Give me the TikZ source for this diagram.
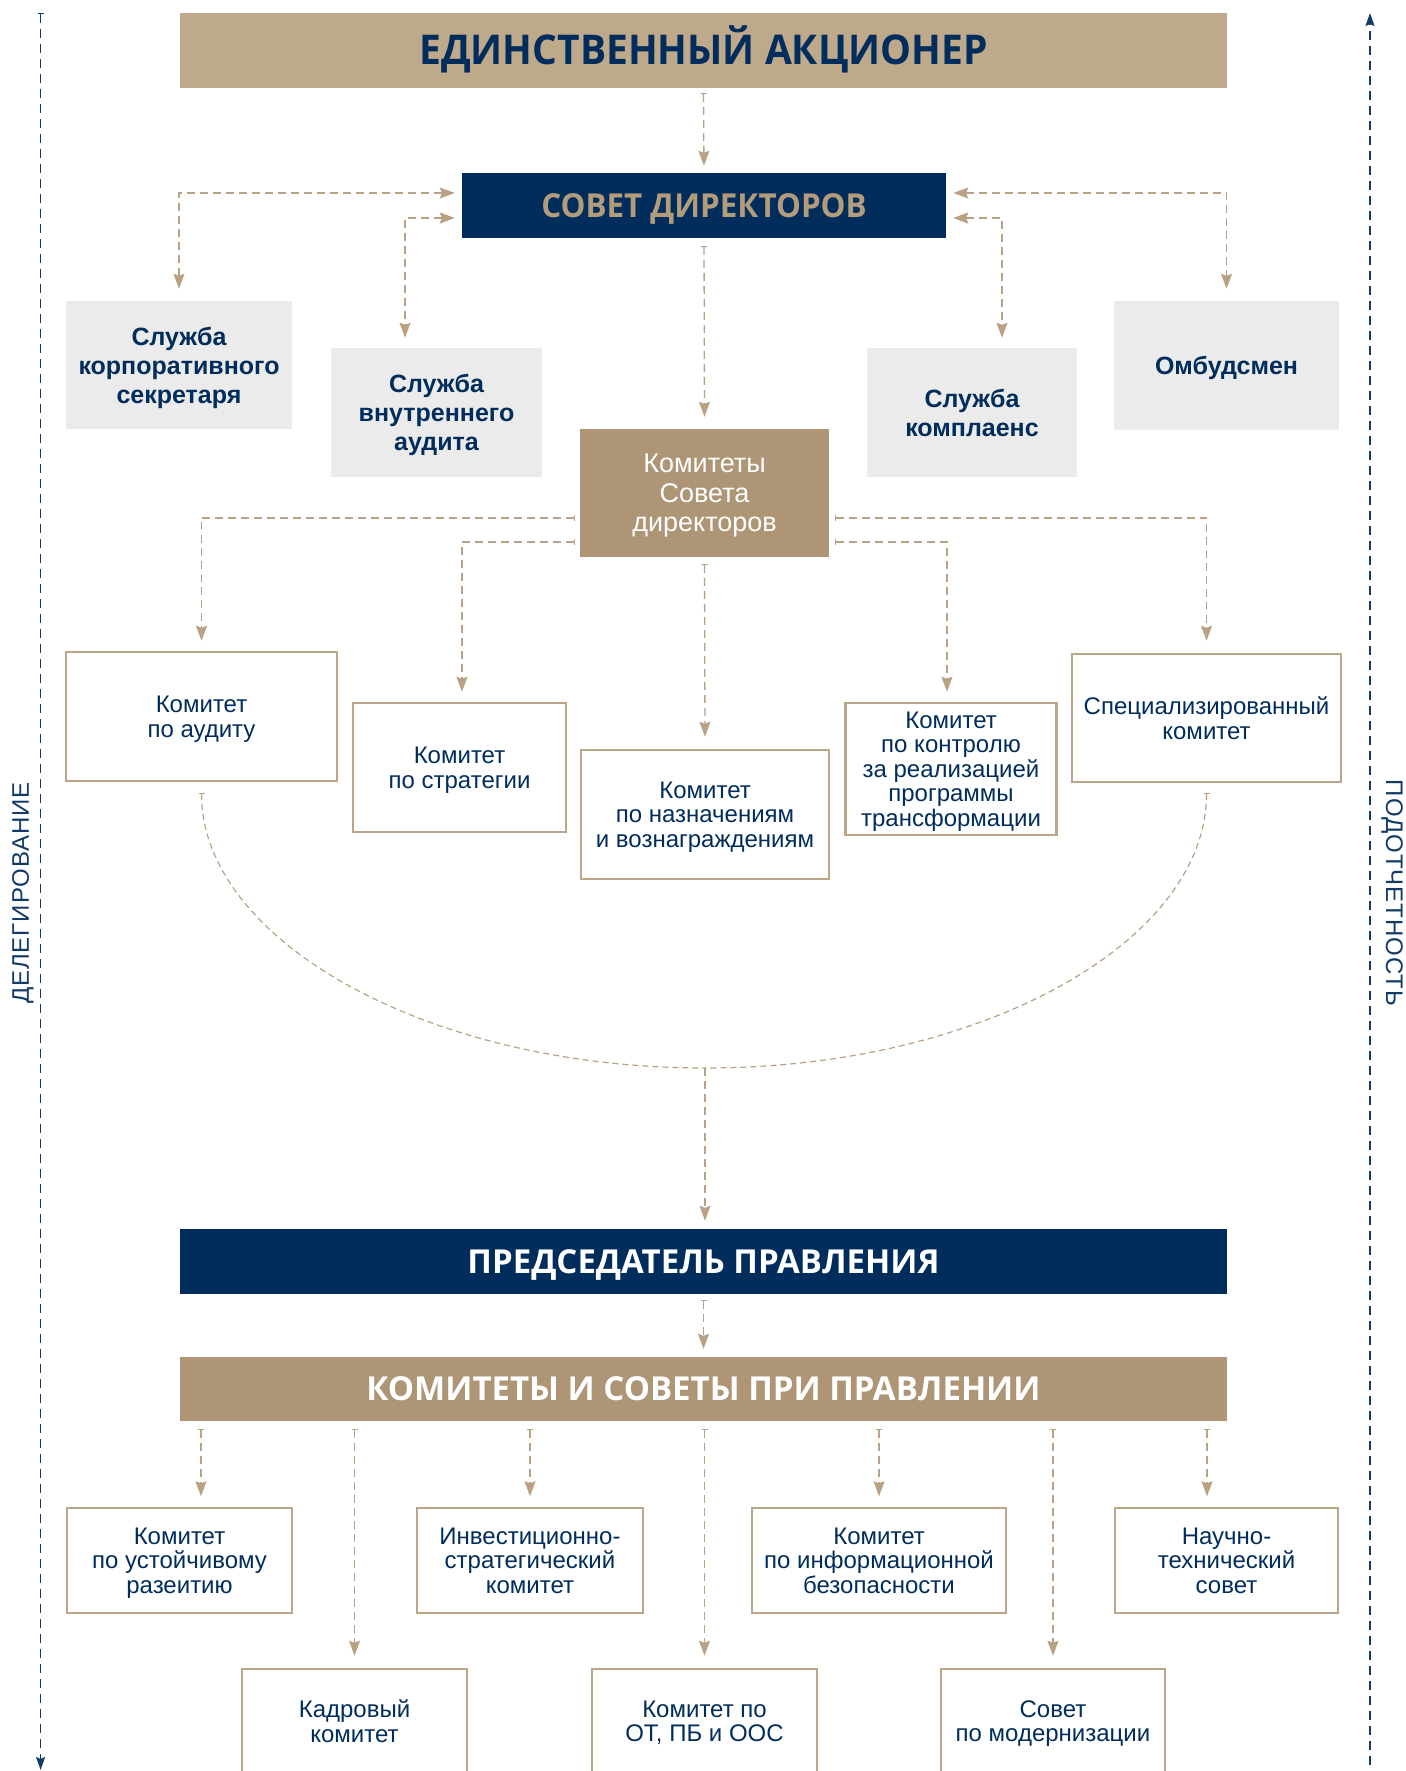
\documentclass[tikz,border=0pt]{standalone}
\usepackage{fontspec}
\setmainfont{Liberation Sans}
\newfontfamily\hfont{Open Sans}
\newfontfamily\hfontn{Open Sans}[FakeStretch=0.95]
\usetikzlibrary{arrows.meta,calc}
\definecolor{navy}{HTML}{002D5C}
\definecolor{tanlt}{HTML}{BFA98B}
\definecolor{tandk}{HTML}{AD9575}
\definecolor{grayb}{HTML}{EBEBEB}
\definecolor{lncol}{HTML}{B9A283}
\definecolor{bord}{HTML}{BBA687}
\definecolor{sdtext}{HTML}{B39C7C}
\definecolor{sidecol}{HTML}{123A66}
\tikzset{
  box/.style={rectangle, inner sep=0pt, align=center},
  hdr/.style={box, text height=29pt, text depth=0pt, font=\hfontn\bfseries\fontsize{41}{46}\selectfont},
  hdrs/.style={box, text height=23.5pt, text depth=0pt, font=\hfontn\bfseries\fontsize{33}{38}\selectfont},
  hdrm/.style={box, text height=23.5pt, text depth=0pt, font=\hfont\bfseries\fontsize{33}{36}\selectfont},
  gbox/.style={box, fill=grayb, text=navy, text depth=-3pt, font=\bfseries\fontsize{25}{29}\selectfont},
  obox/.style={box, draw=bord, line width=2.5pt, fill=white, text=navy, text depth=-3pt, font=\fontsize{24}{24.5}\selectfont},
  conn/.style={draw=lncol, line width=1.3pt, dash pattern=on 8pt off 5pt, {Bar[width=6pt,line width=1pt]}-{Stealth[length=15pt,width=11pt,inset=2pt]}},
  conntwo/.style={draw=lncol, line width=1.3pt, dash pattern=on 8pt off 5pt, {Stealth[length=15pt,width=11pt,inset=2pt]}-{Stealth[length=15pt,width=11pt,inset=2pt]}},
  connplain/.style={draw=lncol, line width=1.3pt, dash pattern=on 8pt off 5pt, -{Stealth[length=15pt,width=11pt,inset=2pt]}},
  curv/.style={draw=lncol, line width=1.2pt, dash pattern=on 6pt off 4pt, {Bar[width=6pt,line width=1pt]}-},
  side/.style={draw=sidecol, line width=1.4pt, dash pattern=on 9pt off 6pt},
  sidelab/.style={text=sidecol, inner sep=0pt, font=\fontsize{24}{26}\selectfont\addfontfeature{LetterSpace=4}}
}
\begin{document}
\begin{tikzpicture}[x=1pt,y=-1pt]
\useasboundingbox (0,0) rectangle (1405,1771);
\clip (0,0) rectangle (1405,1771);

% headers
\node[hdr, fill=tanlt, text=navy, minimum width=1047pt, minimum height=75pt] (sha) at (703.5,50.5) {ЕДИНСТВЕННЫЙ АКЦИОНЕР};
\node[hdrs, fill=navy, text=sdtext, minimum width=484pt, minimum height=65pt] (sd) at (704,205.5) {СОВЕТ ДИРЕКТОРОВ};

% grey boxes
\node[gbox, minimum width=226pt, minimum height=128pt] (skr) at (179,365) {Служба\\корпоративного\\секретаря};
\node[gbox, minimum width=211pt, minimum height=129pt] (sva) at (436.5,412.5) {Служба\\внутреннего\\аудита};
\node[gbox, minimum width=210pt, minimum height=129pt] (skom) at (972,412.5) {Служба\\комплаенс};
\node[gbox, minimum width=225pt, minimum height=129pt] (omb) at (1226.5,365.5) {Омбудсмен};

% committees of the board
\node[box, fill=tandk, text=white, text depth=-3pt, font=\fontsize{27}{29.5}\selectfont, minimum width=249pt, minimum height=128pt] (ksd) at (704.5,493) {Комитеты\\Совета\\директоров};

\node[obox, minimum width=271pt, minimum height=129pt] (kaud) at (201.5,716.5) {Комитет\\по аудиту};
\node[obox, minimum width=213pt, minimum height=129pt] (kstr) at (459.5,767.5) {Комитет\\по стратегии};
\node[obox, minimum width=248pt, minimum height=129pt] (knaz) at (705,814.5) {Комитет\\по назначениям\\и вознаграждениям};
\node[obox, minimum width=211pt, minimum height=132pt] (kktr) at (951,769) {Комитет\\по контролю\\за реализацией\\программы\\трансформации};
\node[obox, minimum width=269pt, minimum height=128pt] (kspec) at (1206.5,718) {Специализированный\\комитет};

% management
\node[hdrm, fill=navy, text=white, minimum width=1047pt, minimum height=65pt] (pred) at (703.5,1261.5) {ПРЕДСЕДАТЕЛЬ ПРАВЛЕНИЯ};
\node[hdrm, fill=tandk, text=white, minimum width=1047pt, minimum height=64pt] (ksp) at (703.5,1389) {КОМИТЕТЫ И СОВЕТЫ ПРИ ПРАВЛЕНИИ};

\node[obox, minimum width=225pt, minimum height=105pt] (kur) at (179.5,1560.5) {Комитет\\по устойчивому\\разеитию};
\node[obox, minimum width=226pt, minimum height=105pt] (inv) at (530,1560.5) {Инвестиционно-\\стратегический\\комитет};
\node[obox, minimum width=254pt, minimum height=105pt] (kib) at (879,1560.5) {Комитет\\по информационной\\безопасности};
\node[obox, minimum width=223pt, minimum height=105pt] (nts) at (1226.5,1560.5) {Научно-\\технический\\совет};

\node[obox, minimum width=225pt, minimum height=104pt] (kadr) at (354.5,1721) {Кадровый\\комитет};
\node[obox, minimum width=225pt, minimum height=104pt] (otpb) at (704.5,1721) {Комитет по\\ОТ, ПБ и ООС};
\node[obox, minimum width=224pt, minimum height=104pt] (smod) at (1053,1721) {Совет\\по модернизации};

% connectors: top part
\draw[conn, shorten <=5pt, shorten >=7pt] (sha.south) -- (sd.north);
\draw[conntwo, shorten <=7pt, shorten >=12pt] ([yshift=12.5pt]sd.west) -| (skr.north);
\draw[conntwo, shorten <=7pt, shorten >=10pt] ([yshift=-12.5pt]sd.west) -| ([xshift=-31.5pt]sva.north);
\draw[conntwo, shorten <=7pt, shorten >=12pt] ([yshift=12.5pt]sd.east) -| (omb.north);
\draw[conntwo, shorten <=7pt, shorten >=10pt] ([yshift=-12.5pt]sd.east) -| ([xshift=30pt]skom.north);
\draw[conn, shorten <=8pt, shorten >=12pt] (sd.south) -- (ksd.north);

% committees of the board
\draw[conn, shorten <=5pt, shorten >=10pt] ([yshift=-25pt]ksd.west) -| (kaud.north);
\draw[conn, shorten <=5pt, shorten >=10pt] ([yshift=-49pt]ksd.west) -| ([xshift=2.5pt]kstr.north);
\draw[conn, shorten <=7pt, shorten >=12pt] (ksd.south) -- (knaz.north);
\draw[conn, shorten <=6pt, shorten >=10pt] ([yshift=-49pt]ksd.east) -| ([xshift=-4pt]kktr.north);
\draw[conn, shorten <=6pt, shorten >=12pt] ([yshift=-25pt]ksd.east) -| (kspec.north);

% curve
\coordinate (cb) at (705,1068);
\draw[curv, shorten <=11pt] (kaud.south) .. controls +(0,158) and +(-278,0) .. (cb);
\draw[curv, shorten <=10pt] (kspec.south) .. controls +(0,158) and +(278,0) .. (cb);
\draw[connplain, shorten >=8pt] (cb) -- (cb |- pred.north);

% management
\draw[conn, shorten <=6pt, shorten >=8pt] (pred.south) -- (ksp.north);
\path ([xshift=21.5pt]kur.north) coordinate (kurin) ([xshift=-19.5pt]nts.north) coordinate (ntsin);
\draw[conn, shorten <=8pt, shorten >=10.5pt] (kurin |- ksp.south) -- (kurin);
\draw[conn, shorten <=8pt, shorten >=12pt] (kadr.north |- ksp.south) -- (kadr.north);
\draw[conn, shorten <=8pt, shorten >=10.5pt] (inv.north |- ksp.south) -- (inv.north);
\draw[conn, shorten <=8pt, shorten >=12pt] (otpb.north |- ksp.south) -- (otpb.north);
\draw[conn, shorten <=8pt, shorten >=10.5pt] (kib.north |- ksp.south) -- (kib.north);
\draw[conn, shorten <=8pt, shorten >=12pt] (smod.north |- ksp.south) -- (smod.north);
\draw[conn, shorten <=8pt, shorten >=10.5pt] (ntsin |- ksp.south) -- (ntsin);

% side lines
\coordinate (ltop) at (40.6,13);
\coordinate (lbot) at (40.6,1770);
\coordinate (rbot) at (1370,1780);
\coordinate (rtop) at (1370,13);
\draw[side, {Bar[width=6pt,line width=1pt]}-{Stealth[length=13pt,width=9pt,inset=2pt]}] (ltop) -- (lbot);
\draw[side, -{Stealth[length=13pt,width=9pt,inset=2pt]}] (rbot) -- (rtop);
\node[sidelab, rotate=90] (deleg) at (23,893) {ДЕЛЕГИРОВАНИЕ};
\node[sidelab, rotate=-90] (podot) at (1392,893) {ПОДОТЧЕТНОСТЬ};
\end{tikzpicture}
\end{document}
